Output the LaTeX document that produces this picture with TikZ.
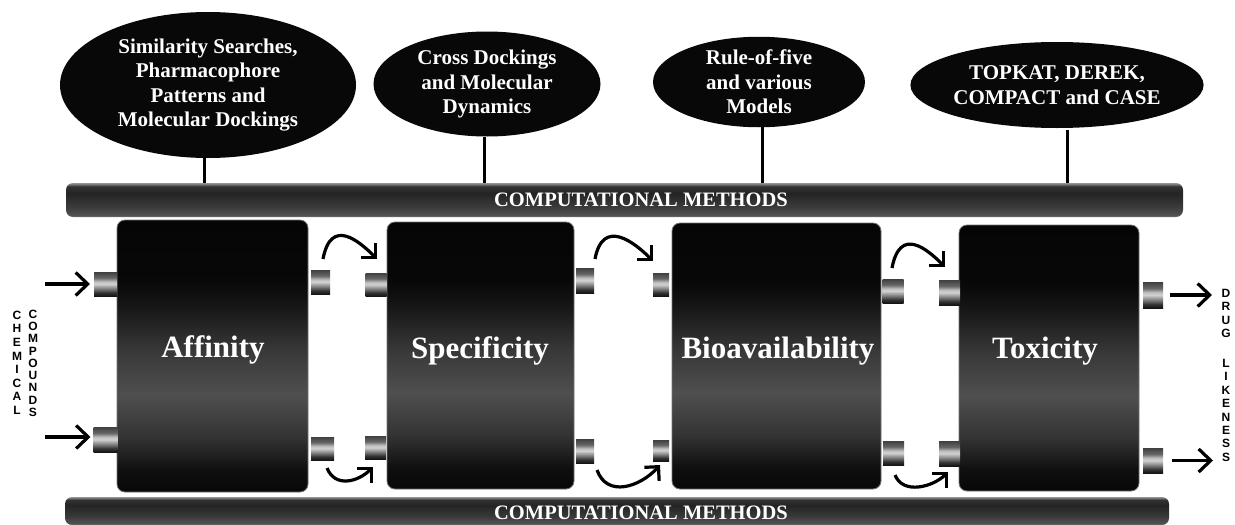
\documentclass[tikz,border=0pt]{standalone}
\usepackage{fontspec}
\setmainfont{Liberation Serif}
\newfontfamily\sansb{Liberation Sans}
\usetikzlibrary{shapes.geometric,arrows.meta}

\pgfdeclareverticalshading{boxshade}{100bp}{color(0bp)=(black!97); color(25bp)=(black!97); color(29bp)=(black!94); color(35bp)=(black!80); color(43bp)=(black!69); color(51bp)=(black!78); color(59bp)=(black!91); color(64bp)=(black!97); color(75bp)=(black!98); color(100bp)=(black!98)}
\pgfdeclareverticalshading{barshade}{100bp}{color(0bp)=(black!55); color(25bp)=(black!55); color(28bp)=(black!68); color(40bp)=(black!77); color(60bp)=(black!86); color(70bp)=(black!80); color(73bp)=(black!55); color(75bp)=(black!42); color(100bp)=(black!42)}
\pgfdeclareverticalshading{portshade}{100bp}{color(0bp)=(black!92); color(25bp)=(black!92); color(32bp)=(black!80); color(42bp)=(black!45); color(50bp)=(black!18); color(55bp)=(black!25); color(63bp)=(black!60); color(75bp)=(black!75); color(100bp)=(black!75)}

\begin{document}
\begin{tikzpicture}[x=1pt,y=-1pt,
  every node/.style={inner sep=0pt, outer sep=0pt},
  ell/.style={ellipse, fill=black!97, text=white, align=center, font=\bfseries\fontsize{21}{24.5}\selectfont},
  procbox/.style={rectangle, rounded corners=8pt, shade, shading=boxshade, draw=black!55, line width=0.8pt},
  bar/.style={rectangle, rounded corners=7pt, shade, shading=barshade},
  port/.style={rectangle, shade, shading=portshade},
  stem/.style={line width=3pt},
  sarrow/.style={line width=3.2pt, -{Straight Barb[length=12pt,width=23pt]}},
  carrow/.style={line width=3.2pt, -{Straight Barb[length=10pt,width=20pt]}},
  vtext/.style={align=center, anchor=north, font=\sansb\bfseries\fontsize{12}{13.4}\selectfont},
  boxtext/.style={text=white, font=\bfseries\fontsize{31}{36}\selectfont},
  bartext/.style={text=white, font=\bfseries\fontsize{20.5}{24}\selectfont}
]
\useasboundingbox (0,0) rectangle (1235,525);

% bars
\node[bar, minimum width=1117pt, minimum height=34pt] (topbar) at (624.5,200) {};
\node[bar, minimum width=1104pt, minimum height=28pt] (botbar) at (617,511) {};
\node[bartext] (toptxt) at (641,200) {COMPUTATIONAL METHODS};
\node[bartext] (bottxt) at (641,513) {COMPUTATIONAL METHODS};

% process boxes
\node[procbox, minimum width=191pt, minimum height=272pt] (aff) at (212.5,356) {};
\node[procbox, minimum width=187pt, minimum height=267pt] (spe) at (480.5,355.5) {};
\node[procbox, minimum width=209pt, minimum height=266pt] (bio) at (776.5,356) {};
\node[procbox, minimum width=180pt, minimum height=266pt] (tox) at (1049,358) {};
\node[boxtext] (taff) at (213,350) {Affinity};
\node[boxtext] (tspe) at (480,351) {Specificity};
\node[boxtext] (tbio) at (778,351) {Bioavailability};
\node[boxtext] (ttox) at (1045,351) {Toxicity};

% ports
\node[port, minimum width=23pt, minimum height=24pt] (al1) at (105.5,284) {};
\node[port, minimum width=24pt, minimum height=25pt] (al2) at (105.5,439.5) {};
\node[port, minimum width=19pt, minimum height=24pt] (ar1) at (320.5,282) {};
\node[port, minimum width=23pt, minimum height=23pt] (ar2) at (322.5,448.5) {};
\node[port, minimum width=21pt, minimum height=23pt] (sl1) at (376,284.5) {};
\node[port, minimum width=21pt, minimum height=23pt] (sl2) at (375.5,447.5) {};
\node[port, minimum width=18pt, minimum height=25pt] (sr1) at (585,280.5) {};
\node[port, minimum width=18pt, minimum height=24pt] (sr2) at (585,451) {};
\node[port, minimum width=16pt, minimum height=23pt] (bl1) at (661,284.5) {};
\node[port, minimum width=16pt, minimum height=21pt] (bl2) at (661,450.5) {};
\node[port, minimum width=21pt, minimum height=24pt] (br1) at (893,291) {};
\node[port, minimum width=21pt, minimum height=24pt] (br2) at (893.5,453) {};
\node[port, minimum width=21pt, minimum height=25pt] (tl1) at (949.5,292.5) {};
\node[port, minimum width=21pt, minimum height=25pt] (tl2) at (949.5,453.5) {};
\node[port, minimum width=20pt, minimum height=26pt] (tr1) at (1153,295) {};
\node[port, minimum width=20pt, minimum height=25pt] (tr2) at (1153,460.5) {};

% ellipses
\node[ell, minimum width=296pt, minimum height=146pt] (e1) at (208,85)
  {Similarity Searches,\\Pharmacophore\\Patterns and\\Molecular Dockings};
\node[ell, minimum width=227pt, minimum height=105pt] (e2) at (487,84)
  {Cross Dockings\\and Molecular\\Dynamics};
\node[ell, minimum width=212pt, minimum height=90pt] (e3) at (759,82)
  {Rule-of-five\\and various\\Models};
\node[ell, minimum width=252pt, minimum height=86pt] (e4) at (1057,85)
  {TOPKAT, DEREK,\\COMPACT and CASE};

% stems from ellipses to the bar
\coordinate (s1) at (204,183);
\coordinate (s2) at (484,183);
\coordinate (s3) at (762,183);
\coordinate (s4) at (1067,183);
\draw[stem] (s1) -- (s1 |- e1.south);
\draw[stem] (s2) -- (s2 |- e2.south);
\draw[stem] (s3) -- (s3 |- e3.south);
\draw[stem] (s4) -- ([yshift=-2pt]s4 |- e4.south);

% input / output arrows
\coordinate (in1) at (45,284);
\coordinate (in2) at (45,437);
\coordinate (out1) at (1212,295);
\coordinate (out2) at (1213,460.5);
\draw[sarrow, shorten >=4pt] (in1) -- (in1 -| al1.west);
\draw[sarrow, shorten >=3pt] (in2) -- (in2 -| al2.west);
\draw[sarrow, shorten <=7pt] (tr1.east) -- (out1);
\draw[sarrow, shorten <=9pt] (tr2.east) -- (out2);

% curved transfer arrows
\coordinate (c1s) at (323,259);  \coordinate (c1e) at (377,259);
\coordinate (c2s) at (327,468);  \coordinate (c2e) at (373,467);
\coordinate (c3s) at (595,259);  \coordinate (c3e) at (653,261);
\coordinate (c4s) at (597,470);  \coordinate (c4e) at (660,465);
\coordinate (c5s) at (892,268);  \coordinate (c5e) at (945,267);
\coordinate (c6s) at (895,475);  \coordinate (c6e) at (948,472);
\draw[carrow] (c1s) .. controls +(8,-42) and +(-18,-18) .. (c1e);
\draw[carrow] (c3s) .. controls +(8,-42) and +(-18,-18) .. (c3e);
\draw[carrow] (c5s) .. controls +(8,-42) and +(-18,-18) .. (c5e);
\draw[carrow] (c2s) .. controls +(8,20) and +(-15,15) .. (c2e);
\draw[carrow] (c4s) .. controls +(10,28) and +(-20,22) .. (c4e);
\draw[carrow] (c6s) .. controls +(8,20) and +(-15,15) .. (c6e);

% vertical labels
\node[vtext, font=\sansb\bfseries\fontsize{12}{13.6}\selectfont] (chem) at (17,311) {C\\H\\E\\M\\I\\C\\A\\L};
\node[vtext, font=\sansb\bfseries\fontsize{12}{12.25}\selectfont] (comp) at (33,310) {C\\O\\M\\P\\O\\U\\N\\D\\S};
\node[vtext] (drug) at (1226,289) {D\\R\\U\\G\\[16.6pt]L\\I\\K\\E\\N\\E\\S\\S};
\end{tikzpicture}
\end{document}
